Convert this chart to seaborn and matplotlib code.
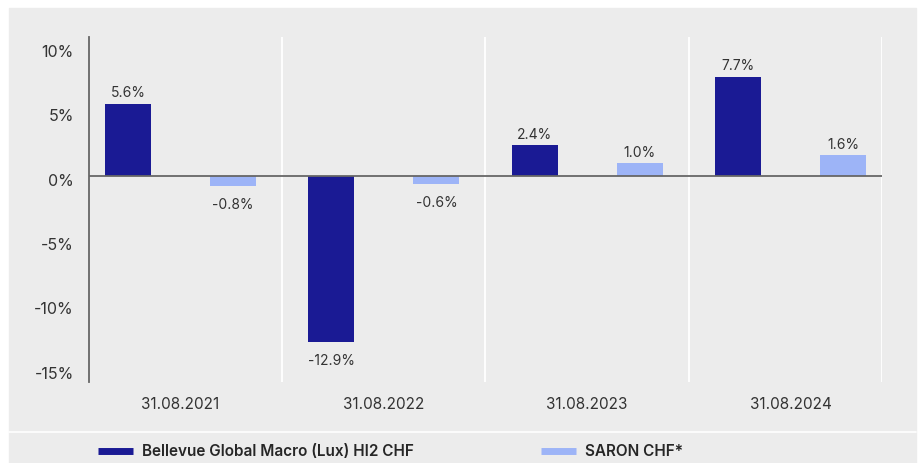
import seaborn as sns
import matplotlib.pyplot as plt
import matplotlib.transforms as mtransforms
import pandas as pd
from matplotlib.patches import Rectangle
from matplotlib.lines import Line2D

# Datos
fechas = ["31.08.2021", "31.08.2022", "31.08.2023", "31.08.2024"]
fondo = [5.6, -12.9, 2.4, 7.7]
saron = [-0.8, -0.6, 1.0, 1.6]
series = ["Bellevue Global Macro (Lux) HI2 CHF", "SARON CHF*"]
y_ticks = [-15, -10, -5, 0, 5, 10]

colores = ["#1a1a94", "#9db4f7"]
gris = "#ececec"
texto = "#333333"

df = pd.DataFrame({
    "fecha": fechas * 2,
    "valor": fondo + saron,
    "serie": [series[0]] * len(fechas) + [series[1]] * len(fechas),
})

sns.set_theme(style="white")
plt.rcParams["font.family"] = ["Inter", "DejaVu Sans"]

W, H = 920, 463
fig = plt.figure(figsize=(W / 100, H / 100), dpi=100)
fig.patch.set_facecolor("white")
fig.patches.append(Rectangle((9 / W, 0), (916 - 9) / W, (H - 8) / H,
                             transform=fig.transFigure, color=gris, zorder=-10))
# línea separadora sobre la leyenda
fig.lines.append(Line2D([9 / W, 916 / W], [1 - 432 / H] * 2, transform=fig.transFigure,
                        color="white", lw=1.2))

ax = fig.add_axes([89 / W, 1 - 382 / H, (882 - 89) / W, (382 - 37) / H])
ax.set_facecolor(gris)

sns.barplot(data=df, x="fecha", y="valor", hue="serie", palette=colores,
            width=1.033, gap=0.5625, saturation=1, linewidth=0, legend=False, ax=ax)

# etiquetas de valor: más separadas debajo de las barras negativas
for cont in ax.containers:
    for barra, v in zip(cont, cont.datavalues):
        x = barra.get_x() + barra.get_width() / 2
        ax.annotate(f"{v:.1f}%", (x, v), xytext=(0, 2.5 if v >= 0 else -8.5),
                    textcoords="offset points", ha="center",
                    va="bottom" if v >= 0 else "top", fontsize=10, color=texto)

ax.set_xlim(-0.45, 3.45)
ax.set_ylim(-16.0, 10.8)
ax.set_yticks(y_ticks)
ax.set_yticklabels([f"{t}%" for t in y_ticks])
ax.set_xlabel("")
ax.set_ylabel("")

# separadores verticales entre fechas (y al final del eje)
ax.set_xticks([0.5, 1.5, 2.5, 3.45], minor=True)
ax.grid(which="minor", axis="x", color="white", lw=1.3)
ax.set_axisbelow(True)
ax.axhline(0, color="#666666", lw=1.3, zorder=3)

for s in ["top", "right", "bottom"]:
    ax.spines[s].set_visible(False)
ax.spines["left"].set_color("#666666")
ax.spines["left"].set_linewidth(1.3)

ax.tick_params(axis="y", length=0, pad=11, labelsize=11.5, labelcolor=texto)
ax.tick_params(axis="x", which="major", length=0, pad=11, labelsize=11, labelcolor=texto)
ax.tick_params(axis="x", which="minor", length=4, color="#aaaaaa", width=1)

# las etiquetas del eje y quedan unos píxeles por debajo de su línea
desplaza = mtransforms.ScaledTranslation(0, -2.5 / 72, fig.dpi_scale_trans)
for lbl in ax.get_yticklabels():
    lbl.set_transform(lbl.get_transform() + desplaza)

handles = [Line2D([], [], color=c, lw=5, solid_capstyle="butt") for c in colores]
fig.legend(handles, series, loc="center left", bbox_to_anchor=(84 / W, 1 - 452 / H),
           ncol=2, frameon=False, handlelength=2.3, handletextpad=0.6,
           columnspacing=8.3, prop={"size": 11, "weight": "semibold"})

plt.savefig("out.png", dpi=100, facecolor=fig.get_facecolor())
plt.close()
